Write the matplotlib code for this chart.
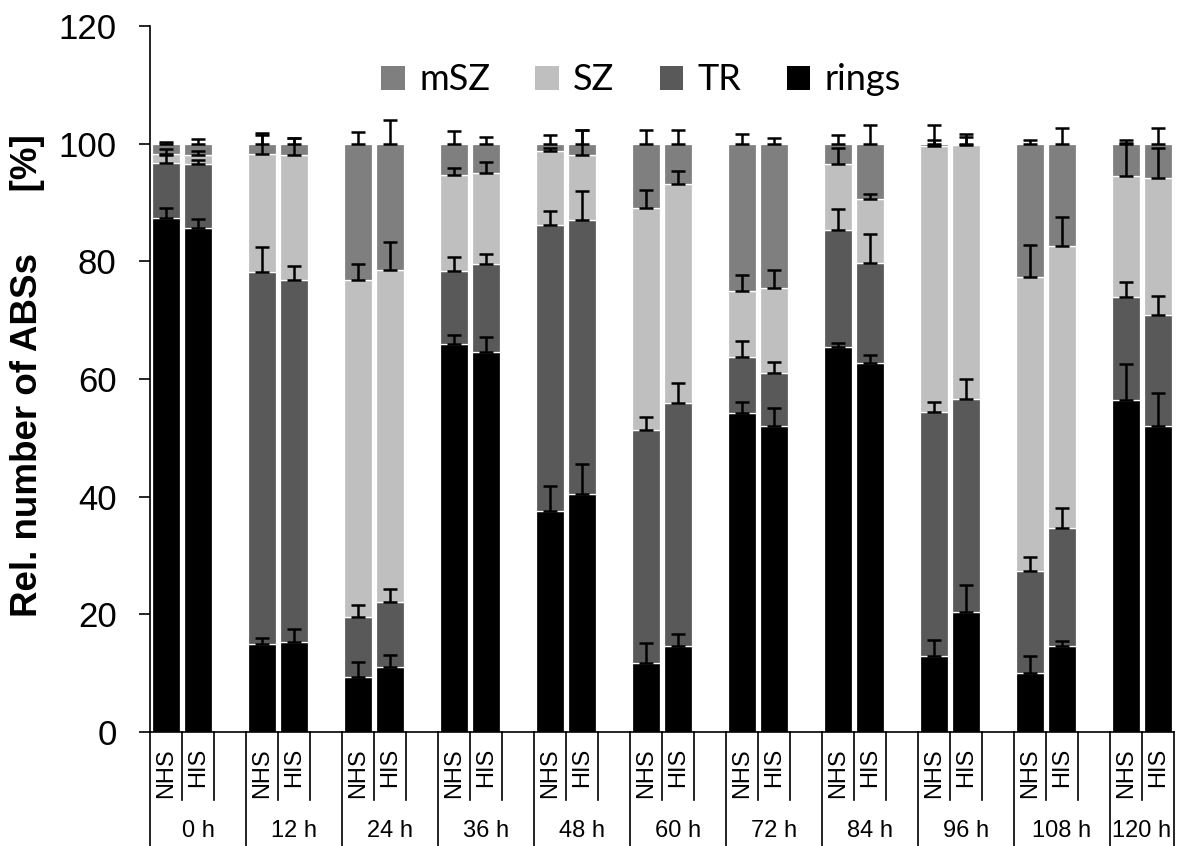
import numpy as np
import matplotlib
matplotlib.use("Agg")
import matplotlib.pyplot as plt
from matplotlib.transforms import blended_transform_factory
from matplotlib.patches import Patch

# Sampling times and the two conditions shown for each time point
times = ["0 h", "12 h", "24 h", "36 h", "48 h", "60 h", "72 h", "84 h", "96 h", "108 h", "120 h"]
conditions = ["NHS", "HIS"]

# Relative shares (%) of each ABS class, stacked bottom to top: rings, TR, SZ, mSZ
rings_nhs = [87.3, 15.0, 9.4, 66.0, 37.5, 11.7, 54.3, 65.4, 12.9, 10.0, 56.5]
rings_his = [85.6, 15.3, 11.0, 64.6, 40.5, 14.6, 52.0, 62.7, 20.4, 14.6, 52.0]
tr_nhs = [9.4, 63.2, 10.1, 12.3, 48.6, 39.6, 9.4, 19.9, 41.5, 17.3, 17.4]
tr_his = [10.9, 61.6, 11.1, 15.0, 46.6, 41.3, 9.1, 17.0, 36.2, 20.1, 18.8]
sz_nhs = [1.6, 20.1, 57.4, 16.3, 12.6, 37.8, 11.2, 11.3, 45.2, 50.1, 20.6]
sz_his = [1.5, 21.1, 56.4, 15.4, 10.9, 37.2, 14.4, 10.9, 43.1, 47.9, 23.4]
msz_nhs = [1.7, 1.7, 23.1, 5.4, 1.3, 10.9, 25.1, 3.4, 0.4, 22.6, 5.5]
msz_his = [2.0, 2.0, 21.5, 5.0, 2.0, 6.9, 24.5, 9.4, 0.3, 17.4, 5.8]

# Standard deviations (upper error bars only)
rings_nhs_sd = [1.7, 0.9, 2.5, 1.5, 4.3, 3.4, 1.8, 0.8, 2.8, 3.0, 6.0]
rings_his_sd = [1.6, 2.2, 2.1, 2.6, 5.1, 2.1, 3.0, 1.4, 4.6, 0.9, 5.7]
tr_nhs_sd = [1.4, 4.2, 2.1, 2.4, 2.4, 2.2, 2.7, 3.6, 1.7, 2.5, 2.6]
tr_his_sd = [0.7, 2.3, 2.2, 1.6, 4.8, 3.5, 1.8, 5.0, 3.4, 3.3, 3.3]
sz_nhs_sd = [0.8, 3.1, 2.7, 1.2, 0.5, 3.1, 2.7, 2.6, 1.0, 5.3, 5.6]
sz_his_sd = [0.7, 3.0, 4.8, 1.9, 4.3, 2.3, 3.0, 0.9, 1.4, 4.9, 5.0]
msz_nhs_sd = [0.3, 1.8, 2.0, 2.1, 1.5, 2.4, 1.7, 1.5, 3.1, 0.7, 0.7]
msz_his_sd = [0.8, 1.0, 4.0, 1.1, 2.4, 2.4, 1.0, 3.1, 1.6, 2.7, 2.6]

series_names = ["rings", "TR", "SZ", "mSZ"]
series_colors = {"rings": "#000000", "TR": "#595959", "SZ": "#bfbfbf", "mSZ": "#7f7f7f"}

W, H = 1178, 846
fig = plt.figure(figsize=(W / 100, H / 100), dpi=100)
ax = fig.add_axes([150 / W, (H - 732) / H, 1024 / W, 706 / H])

n = len(times)
pos_nhs = np.arange(n) * 3
pos_his = pos_nhs + 1
bar_w = 0.88

stacks = {
    "NHS": [rings_nhs, tr_nhs, sz_nhs, msz_nhs],
    "HIS": [rings_his, tr_his, sz_his, msz_his],
}
sds = {
    "NHS": [rings_nhs_sd, tr_nhs_sd, sz_nhs_sd, msz_nhs_sd],
    "HIS": [rings_his_sd, tr_his_sd, sz_his_sd, msz_his_sd],
}
positions = {"NHS": pos_nhs, "HIS": pos_his}

for cond in conditions:
    x = positions[cond]
    bottom = np.zeros(n)
    for name, vals, sd in zip(series_names, stacks[cond], sds[cond]):
        vals = np.asarray(vals, dtype=float)
        ax.bar(x, vals, bottom=bottom, width=bar_w, color=series_colors[name],
               edgecolor="white", linewidth=0.9, zorder=2)
        top = bottom + vals
        ax.errorbar(x, top, yerr=[np.zeros(n), np.asarray(sd)], fmt="none",
                    ecolor="black", elinewidth=1.8, capsize=5, capthick=1.8,
                    zorder=3)
        bottom = top

ax.set_xlim(-0.5, 3 * n - 1.5)
ax.set_ylim(0, 120)
ax.set_yticks(np.arange(0, 121, 20))
ax.set_xticks([])
for side in ("top", "right"):
    ax.spines[side].set_visible(False)
for side in ("left", "bottom"):
    ax.spines[side].set_linewidth(1.2)
ax.tick_params(axis="y", direction="out", length=8, width=1.2, pad=16,
               labelsize=25)
for lab in ax.get_yticklabels():
    lab.set_family("Liberation Sans")

# Two-level category axis below the plot
tr_x = blended_transform_factory(ax.transData, fig.transFigure)
y_axis = (H - 732) / H
y_short = (H - 800) / H
line_kw = dict(color="black", linewidth=1.2, transform=tr_x, clip_on=False)
for g in range(n):
    start = 3 * g - 0.5
    fig.add_artist(plt.Line2D([start, start], [y_axis, 0], **line_kw))
    inner = [3 * g + 0.5] if g == n - 1 else [3 * g + 0.5, 3 * g + 1.5]
    for xi in inner:
        fig.add_artist(plt.Line2D([xi, xi], [y_axis, y_short], **line_kw))
end = 3 * n - 1.5
fig.add_artist(plt.Line2D([end, end], [y_axis, 0], **line_kw))

for cond in conditions:
    for xi in positions[cond]:
        fig.text(xi, (H - 748) / H, cond, rotation=90, ha="center", va="top",
                 fontsize=17, family="Liberation Sans", transform=tr_x)
for g, t in enumerate(times):
    xc = 3 * g + 1 if g < n - 1 else 3 * g + 0.5
    fig.text(xc, (H - 831) / H, t, ha="center", va="center", fontsize=17,
             family="Liberation Sans", transform=tr_x)

fig.text(28 / W, (H - 376) / H, "Rel. number of ABSs      [%]", rotation=90,
         ha="center", va="center", fontsize=26.5, fontweight="bold",
         family="Liberation Sans")

legend_order = ["mSZ", "SZ", "TR", "rings"]
handles = [Patch(facecolor=series_colors[s], edgecolor="none") for s in legend_order]
fig.legend(handles, legend_order, ncol=4, loc="center",
           bbox_to_anchor=(641 / W, (H - 80) / H), bbox_transform=fig.transFigure,
           frameon=False, prop={"family": "Lato", "size": 26},
           handlelength=0.65, handleheight=0.65, handletextpad=0.4,
           columnspacing=1.25, borderpad=0)

fig.savefig("out.png", dpi=100)
